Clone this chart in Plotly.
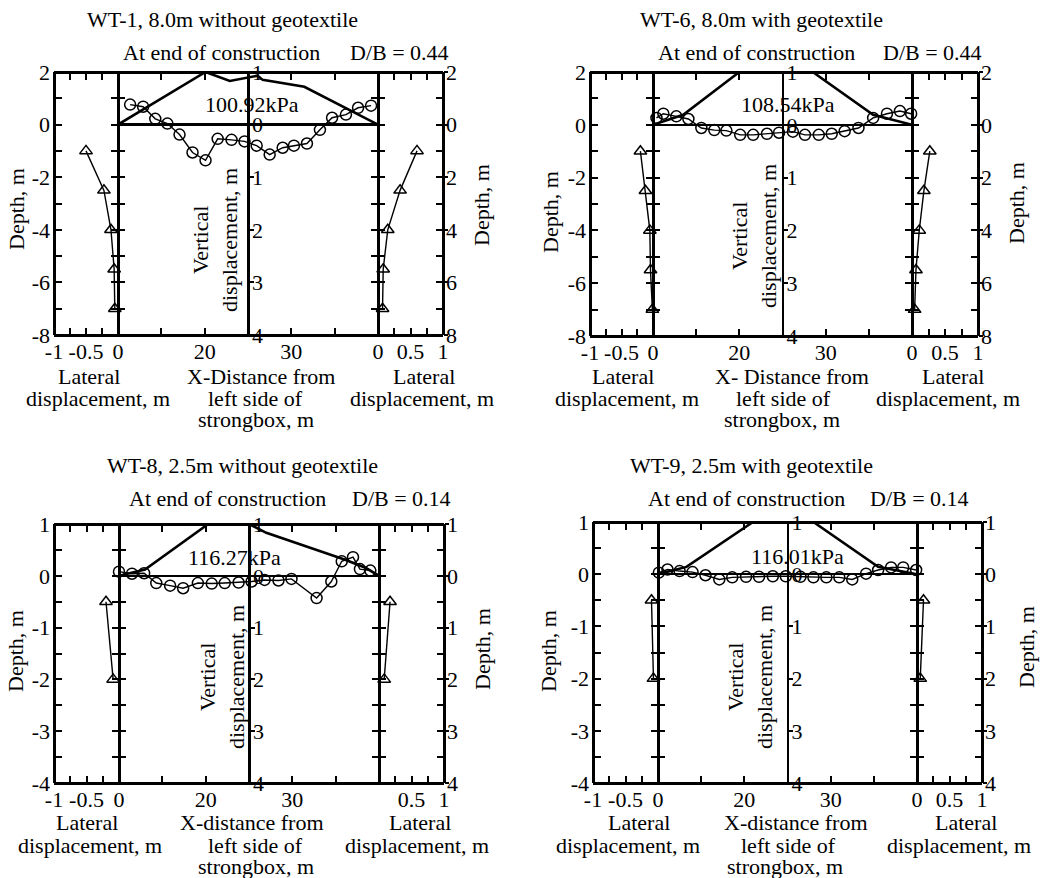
import plotly.graph_objects as go

W, H = 1047, 878
FONT = "Liberation Serif, Times New Roman, Times, serif"
FS = 22

# ================= data =================
depth_8m = [-1.0, -2.5, -4.0, -5.5, -7.0]
depth_25m = [-0.5, -2.0]

# WT-1, 8.0m without geotextile
wt1_lat_left = [-0.5, -0.22, -0.11, -0.06, -0.05]
wt1_lat_right = [0.6, 0.34, 0.15, 0.08, 0.07]
wt1_x = [11.4, 12.9, 14.3, 15.7, 17.1, 18.6, 20.1, 21.5, 23.1, 24.6,
         26.0, 27.5, 29.0, 30.3, 31.8, 33.3, 34.7, 36.3, 37.7, 39.2]
wt1_v = [0.38, 0.34, 0.11, 0.02, -0.19, -0.53, -0.68, -0.27, -0.29, -0.32,
         -0.40, -0.57, -0.44, -0.40, -0.36, -0.10, 0.13, 0.19, 0.32, 0.36]
wt1_emb_x = [10, 20.1, 22.9, 26.1, 26.7, 31.5, 40]
wt1_emb_v = [0, 1.0, 0.83, 0.93, 0.85, 0.72, 0]

# WT-6, 8.0m with geotextile
wt6_lat_left = [-0.2, -0.12, -0.05, -0.04, -0.01]
wt6_lat_right = [0.27, 0.18, 0.11, 0.06, 0.04]
wt6_x = [10.4, 11.2, 12.7, 14.1, 15.6, 17.1, 18.5, 20.1, 21.6, 23.2, 24.6,
         26.2, 27.6, 29.2, 30.7, 32.2, 33.8, 35.5, 37.1, 38.6, 39.9]
wt6_v = [0.13, 0.21, 0.16, 0.11, -0.06, -0.10, -0.11, -0.19, -0.19, -0.17, -0.15,
         -0.13, -0.19, -0.19, -0.17, -0.12, -0.06, 0.13, 0.21, 0.26, 0.21]
wt6_emb_x = [10, 13.5, 20.0, 28.5, 35.5, 40]
wt6_emb_v = [0, 0.19, 1.0, 1.0, 0.19, 0]

# WT-8, 2.5m without geotextile
wt8_lat_left = [-0.2, -0.09]
wt8_lat_right = [0.17, 0.08]
wt8_x = [10.0, 11.5, 12.9, 14.3, 15.9, 17.4, 19.1, 20.7, 22.2, 23.8,
         25.3, 26.8, 28.4, 29.9, 32.8, 34.5, 35.7, 37.0, 37.8, 39.0]
wt8_v = [0.08, 0.04, 0.05, -0.14, -0.19, -0.24, -0.14, -0.15, -0.14, -0.13,
         -0.11, -0.08, -0.09, -0.06, -0.43, -0.11, 0.28, 0.36, 0.13, 0.10]
wt8_emb_x = [10, 13.0, 20.3, 25.0, 27.0, 36.1, 38.5, 40]
wt8_emb_v = [0, 0.12, 1.0, 1.0, 0.83, 0.31, 0.15, 0]

# WT-9, 2.5m with geotextile
wt9_lat_left = [-0.1, -0.07]
wt9_lat_right = [0.1, 0.05]
wt9_x = [10.1, 11.1, 12.5, 14.0, 15.5, 17.1, 18.6, 20.2, 21.7, 23.3, 24.8,
         26.5, 28.0, 29.5, 31.0, 32.5, 34.1, 35.5, 37.0, 38.4, 39.9]
wt9_v = [0.03, 0.09, 0.06, 0.04, -0.02, -0.10, -0.06, -0.05, -0.05, -0.04, -0.04,
         -0.05, -0.06, -0.06, -0.06, -0.10, 0.01, 0.08, 0.13, 0.13, 0.08]
wt9_emb_x = [10, 13.3, 21.0, 28.0, 35.5, 40]
wt9_emb_v = [0, 0.14, 1.0, 1.0, 0.14, 0]

# tick labels
lat_left_ticks = [-1, -0.75, -0.5, -0.25, 0]
lat_left_text = ['-1', '', '-0.5', '', '0']
lat_right_ticks = [0, 0.25, 0.5, 0.75, 1]
lat_right_text = ['0', '', '0.5', '', '1']
lat_right_text_wt8 = ['', '', '0.5', '', '1']
xdist_ticks = [15, 20, 25, 30, 35]
xdist_text = ['', '20', '', '30', '']
vert_ticks = [1, 0, -1, -2, -3, -4]
vert_text = ['1', '0', '1', '2', '3', '4']
depth_ticks_8m = [2, 1, 0, -1, -2, -3, -4, -5, -6, -7, -8]
depth_left_8m = ['2', '', '0', '', '-2', '', '-4', '', '-6', '', '-8']
depth_right_8m = ['2', '', '0', '', '2', '', '4', '', '6', '', '8']
depth_major_8m = [2, 0, -2, -4, -6, -8]
depth_ticks_25m = [1, 0.5, 0, -0.5, -1, -1.5, -2, -2.5, -3, -3.5, -4]
depth_left_25m = ['1', '', '0', '', '-1', '', '-2', '', '-3', '', '-4']
depth_right_25m = ['1', '', '0', '', '1', '', '2', '', '3', '', '4']
depth_major_25m = [1, 0, -1, -2, -3, -4]

# ================= panel layout (pixel positions) =================
panels = [
    dict(title='WT-1, 8.0m without geotextile', sub='At end of construction', db='D/B = 0.44',
         kpa='100.92kPa', kpa_at=(25.5, 0.38),
         xpix=(54, 118, 378, 443), ypix=(72, 335), scale=2,
         title_c=(222, 20), sub_c=(221, 52), db_c=(399, 52),
         depthL=(16, 209), depthR=(482, 205), vert=(215, 240),
         bottom=[('Lateral', 89, 377), ('displacement, m', 98, 398),
                 ('X-Distance from', 261, 377), ('left side of', 255, 398), ('strongbox, m', 256, 420),
                 ('Lateral', 424, 377), ('displacement, m', 422, 398)],
         lat_left=wt1_lat_left, lat_right=wt1_lat_right, depth=depth_8m,
         x=wt1_x, v=wt1_v, emb_x=wt1_emb_x, emb_v=wt1_emb_v,
         dticks=depth_ticks_8m, dleft=depth_left_8m, dright=depth_right_8m, dmajor=depth_major_8m,
         rtext=lat_right_text),
    dict(title='WT-6, 8.0m with geotextile', sub='At end of construction', db='D/B = 0.44',
         kpa='108.54kPa', kpa_at=(25.6, 0.38),
         xpix=(590, 653, 912, 978), ypix=(72, 336), scale=2,
         title_c=(761, 20), sub_c=(756, 52), db_c=(932, 52),
         depthL=(551, 212), depthR=(1016, 203), vert=(754, 236),
         bottom=[('Lateral', 623, 377), ('displacement, m', 627, 398),
                 ('X- Distance from', 792, 377), ('left side of', 783, 398), ('strongbox, m', 782, 420),
                 ('Lateral', 953, 377), ('displacement, m', 948, 398)],
         lat_left=wt6_lat_left, lat_right=wt6_lat_right, depth=depth_8m,
         x=wt6_x, v=wt6_v, emb_x=wt6_emb_x, emb_v=wt6_emb_v,
         dticks=depth_ticks_8m, dleft=depth_left_8m, dright=depth_right_8m, dmajor=depth_major_8m,
         rtext=lat_right_text),
    dict(title='WT-8, 2.5m without geotextile', sub='At end of construction', db='D/B = 0.14',
         kpa='116.27kPa', kpa_at=(23.3, 0.35),
         xpix=(54, 119, 379, 444), ypix=(524, 783), scale=1,
         title_c=(242, 465), sub_c=(227, 498), db_c=(401, 498),
         depthL=(15, 651), depthR=(482, 649), vert=(222, 677),
         bottom=[('Lateral', 87, 822), ('displacement, m', 90, 845),
                 ('X-distance from', 252, 822), ('left side of', 255, 845), ('strongbox, m', 256, 866),
                 ('Lateral', 420, 822), ('displacement, m', 417, 845)],
         lat_left=wt8_lat_left, lat_right=wt8_lat_right, depth=depth_25m,
         x=wt8_x, v=wt8_v, emb_x=wt8_emb_x, emb_v=wt8_emb_v,
         dticks=depth_ticks_25m, dleft=depth_left_25m, dright=depth_right_25m, dmajor=depth_major_25m,
         rtext=lat_right_text_wt8),
    dict(title='WT-9, 2.5m with geotextile', sub='At end of construction', db='D/B = 0.14',
         kpa='116.01kPa', kpa_at=(26.1, 0.33),
         xpix=(593, 658, 917, 982), ypix=(522, 783), scale=1,
         title_c=(751, 465), sub_c=(746, 498), db_c=(919, 498),
         depthL=(548, 651), depthR=(1026, 647), vert=(750, 677),
         bottom=[('Lateral', 639, 822), ('displacement, m', 628, 845),
                 ('X-distance from', 796, 822), ('left side of', 788, 845), ('strongbox, m', 785, 866),
                 ('Lateral', 966, 822), ('displacement, m', 959, 845)],
         lat_left=wt9_lat_left, lat_right=wt9_lat_right, depth=depth_25m,
         x=wt9_x, v=wt9_v, emb_x=wt9_emb_x, emb_v=wt9_emb_v,
         dticks=depth_ticks_25m, dleft=depth_left_25m, dright=depth_right_25m, dmajor=depth_major_25m,
         rtext=lat_right_text),
]

fig = go.Figure()
L = {}
ann = []
cnt = {'x': 0, 'y': 0}


def nxt(letter):
    cnt[letter] += 1
    n = cnt[letter]
    return (letter if n == 1 else f'{letter}{n}'), (f'{letter}axis' if n == 1 else f'{letter}axis{n}')


TF = dict(family=FONT, size=FS, color='black')
BASE = dict(showgrid=False, zeroline=False, linecolor='black', tickcolor='black',
            tickfont=TF, fixedrange=True, tickmode='array', automargin=False)


def txt(s, px, py, angle=0, size=FS):
    ann.append(dict(text=s, x=px / W, y=1 - py / H, xref='paper', yref='paper',
                    xanchor='center', yanchor='middle', showarrow=False, textangle=angle,
                    font=dict(family=FONT, size=size, color='black')))


def deco_y(over, xpair, pos_px, side, showline, rng, tickvals, ticklen, lw=2.5, labels=None, standoff=None):
    """free-positioned y axis used as a frame / boundary line with ticks"""
    yD, yDk = nxt('y')
    d = dict(BASE, overlaying=over, anchor='free', position=pos_px / W, side=side, range=rng,
             showline=showline, linewidth=lw, ticks='outside', ticklen=ticklen, tickwidth=2,
             tickvals=tickvals, showticklabels=labels is not None)
    if labels is not None:
        d['ticktext'] = labels
    if standoff is not None:
        d['ticklabelstandoff'] = standoff
    L[yDk] = d
    fig.add_trace(go.Scatter(x=[], y=[], xaxis=xpair, yaxis=yD, mode='markers',
                             showlegend=False, hoverinfo='skip'))


def deco_x(over, ypair, pos_py, side, rng, tickvals, ticklen, lw=3):
    xD, xDk = nxt('x')
    L[xDk] = dict(BASE, overlaying=over, anchor='free', position=1 - pos_py / H, side=side, range=rng,
                  showline=True, linewidth=lw, ticks='outside', ticklen=ticklen, tickwidth=2,
                  tickvals=tickvals, showticklabels=False)
    fig.add_trace(go.Scatter(x=[], y=[], xaxis=xD, yaxis=ypair, mode='markers',
                             showlegend=False, hoverinfo='skip'))


for p in panels:
    x0, x1, x2, x3 = p['xpix']
    yt, yb = p['ypix']
    s = p['scale']
    ydom = [1 - yb / H, 1 - yt / H]
    drange = [-4 * s, 1 * s]
    xL, xLk = nxt('x'); xM, xMk = nxt('x'); xR, xRk = nxt('x')
    yL, yLk = nxt('y'); yM, yMk = nxt('y'); yR, yRk = nxt('y')

    # main axes: only tick labels (lines/ticks are drawn by the free decoration axes)
    xc = dict(BASE, showline=False, ticks='', ticklabelstandoff=1)
    L[xLk] = dict(xc, domain=[x0 / W, x1 / W], range=[-1, 0], anchor=yL,
                  tickvals=lat_left_ticks, ticktext=lat_left_text)
    L[xMk] = dict(xc, domain=[x1 / W, x2 / W], range=[10, 40], anchor=yM,
                  tickvals=xdist_ticks, ticktext=xdist_text)
    L[xRk] = dict(xc, domain=[x2 / W, x3 / W], range=[0, 1], anchor=yR,
                  tickvals=lat_right_ticks, ticktext=p['rtext'])
    L[yLk] = dict(BASE, domain=ydom, range=drange, anchor=xL, side='left', showline=False, ticks='',
                  tickvals=p['dticks'], ticktext=p['dleft'], ticklabelstandoff=3)
    L[yMk] = dict(BASE, domain=ydom, range=[-4, 1], anchor=xM, showline=False, showticklabels=False,
                  ticks='', zeroline=True, zerolinecolor='black', zerolinewidth=2.5, tickvals=vert_ticks)
    L[yRk] = dict(BASE, domain=ydom, range=drange, anchor=xR, side='right', showline=False, ticks='',
                  tickvals=p['dticks'], ticktext=p['dright'], ticklabelstandoff=2)

    # frame: bottom & top lines with inward ticks
    for over, ypair, rng, tv in ((xL, yL, [-1, 0], lat_left_ticks),
                                 (xM, yM, [10, 40], xdist_ticks),
                                 (xR, yR, [0, 1], lat_right_ticks)):
        deco_x(over, ypair, yb, 'top', rng, tv, 6)
        deco_x(over, ypair, yt, 'bottom', rng, tv, 6)
    # frame: left & right lines with inward ticks
    deco_y(yL, xL, x0, 'right', True, drange, p['dticks'], 6, lw=3)
    deco_y(yR, xR, x3, 'left', True, drange, p['dticks'], 6, lw=3)
    deco_y(yR, xR, x3, 'right', False, drange, p['dmajor'], 4)
    # boundaries between lateral panels and the middle panel (crossing ticks)
    deco_y(yM, xM, x1, 'left', True, drange, p['dticks'], 6)
    deco_y(yM, xM, x1, 'right', False, drange, p['dticks'], 6)
    deco_y(yM, xM, x2, 'left', True, drange, p['dticks'], 6)
    deco_y(yM, xM, x2, 'right', False, drange, p['dticks'], 6)
    # central vertical-displacement axis
    deco_y(yM, xM, (x1 + x2) / 2, 'right', True, [-4, 1], vert_ticks, 4, labels=vert_text, standoff=-6)

    # traces
    line = dict(color='black', width=1.4)
    fig.add_trace(go.Scatter(x=p['lat_left'], y=p['depth'], xaxis=xL, yaxis=yL, mode='lines+markers',
                             line=line, cliponaxis=False,
                             marker=dict(symbol='triangle-up-open', size=11, color='black', line=dict(width=1.5))))
    fig.add_trace(go.Scatter(x=p['lat_right'], y=p['depth'], xaxis=xR, yaxis=yR, mode='lines+markers',
                             line=line, cliponaxis=False,
                             marker=dict(symbol='triangle-up-open', size=11, color='black', line=dict(width=1.5))))
    fig.add_trace(go.Scatter(x=p['emb_x'], y=p['emb_v'], xaxis=xM, yaxis=yM, mode='lines',
                             line=dict(color='black', width=2.6)))
    fig.add_trace(go.Scatter(x=p['x'], y=p['v'], xaxis=xM, yaxis=yM, mode='lines+markers',
                             line=line, cliponaxis=False,
                             marker=dict(symbol='circle-open', size=11, color='black', line=dict(width=1.5))))

    # texts
    txt(p['title'], *p['title_c'])
    txt(p['sub'], *p['sub_c'])
    txt(p['db'], *p['db_c'])
    ann.append(dict(text=p['kpa'], x=p['kpa_at'][0], y=p['kpa_at'][1], xref=xM, yref=yM,
                    xanchor='center', yanchor='middle', showarrow=False,
                    font=dict(family=FONT, size=FS, color='black')))
    txt('Depth, m', *p['depthL'], angle=-90)
    txt('Depth, m', *p['depthR'], angle=-90)
    txt('Vertical<br>displacement, m', *p['vert'], angle=-90)
    for t, bx, by in p['bottom']:
        txt(t, bx, by)

fig.update_layout(**L)
fig.update_layout(width=W, height=H, autosize=False,
                  margin=dict(l=0, r=0, t=0, b=0, pad=0, autoexpand=False),
                  paper_bgcolor='white', plot_bgcolor='rgba(0,0,0,0)', showlegend=False,
                  annotations=ann, font=dict(family=FONT, size=FS, color='black'))
fig.write_html("out.html", config={'displayModeBar': False, 'staticPlot': True},
               post_script="document.body.style.margin='0';document.body.style.overflow='hidden';")
